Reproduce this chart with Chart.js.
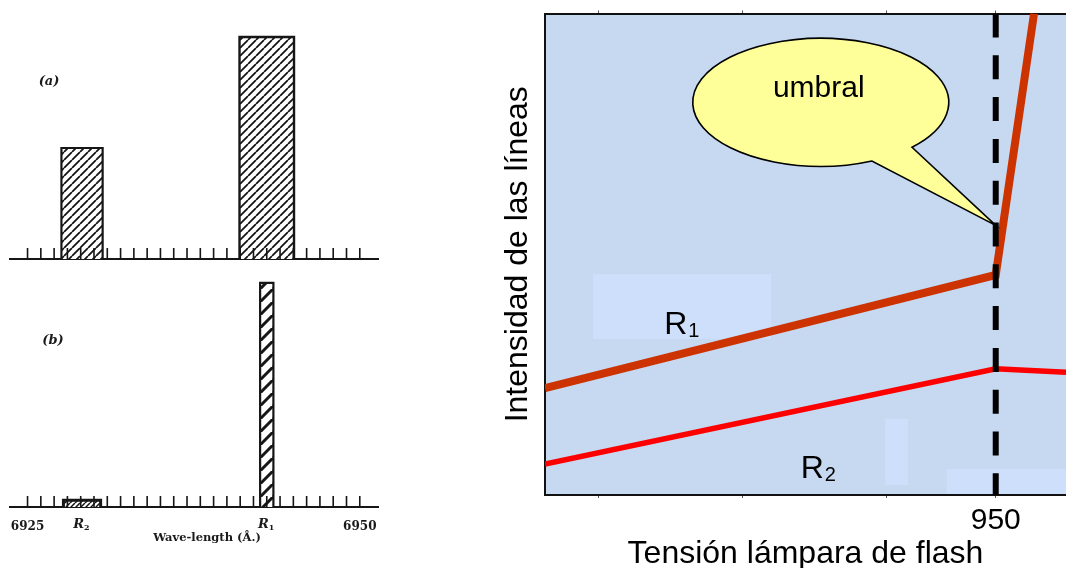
<!DOCTYPE html>
<html>
<head>
<meta charset="utf-8">
<script src="https://cdn.jsdelivr.net/npm/chart.js@4.4.0/dist/chart.umd.min.js"></script>
<style>
body { margin: 0; background: #fff; width: 1066px; height: 568px; overflow: hidden; position: relative; }
canvas { position: absolute; }
#specA { left: 0; top: 0; }
#specB { left: 0; top: 263px; }
#curve { left: 470px; top: 0; }
</style>
</head>
<body>
<canvas id="specA" width="400" height="263"></canvas>
<canvas id="specB" width="400" height="305"></canvas>
<canvas id="curve" width="596" height="576"></canvas>
<script>
// left: the two ruby lines, wavelength in Angstrom
var lineNames = ['R2', 'R1'];
var lineCentres = [6929.1, 6943.0];
var widthsA = [3.1, 4.1];      // (a) low pumping
var heightsA = [50, 100];
var widthsB = [2.8, 1.0];      // (b) above threshold
var heightsB = [3, 101];
var waveMin = 6925, waveMax = 6950;
var waveLabelValues = [6925, 6950];
var waveLabels = ['6925', '6950'];

// right: line intensity vs flash lamp voltage
var voltR1 = [793.5, 950, 963.3];
var intR1 = [22.2, 45.7, 100];
var voltR2 = [793.5, 950, 974.4];
var intR2 = [6.4, 26.2, 25.5];
var thresholdVolt = 950;
var voltTicks = [812, 862, 912, 950];
var voltLabels = ['', '', '', '950'];

var SERIF = '"DejaVu Serif", "Liberation Serif", serif';
var SANS = '"Liberation Sans", Arial, sans-serif';

function hatch(ctx, step, lw) {
  var t = document.createElement('canvas');
  t.width = step; t.height = step;
  var g = t.getContext('2d');
  g.fillStyle = '#ffffff';
  g.fillRect(0, 0, step, step);
  g.strokeStyle = '#161616';
  g.lineWidth = lw;
  g.beginPath();
  for (var k = -1; k <= 1; k++) {
    g.moveTo(k * step, step);
    g.lineTo(k * step + step, 0);
  }
  g.stroke();
  return ctx.createPattern(t, 'repeat');
}

// a spectral line drawn as a filled outline down to the axis
function barOutline(c, w, h) {
  return [{x: c - w / 2, y: 0}, {x: c - w / 2, y: h}, {x: c + w / 2, y: h}, {x: c + w / 2, y: 0}];
}

var spectrumMarks = {
  id: 'spectrumMarks',
  afterDatasetsDraw: function (chart, args, opts) {
    var c = chart.ctx, xs = chart.scales.x, a = chart.chartArea;
    c.save();
    c.strokeStyle = '#161616';
    c.lineWidth = 1.6;
    c.beginPath();
    xs.ticks.forEach(function (t) {
      if (t.value < waveMin - 1e-6 || t.value > waveMax + 1e-6) return;
      var px = xs.getPixelForValue(t.value);
      c.moveTo(px, a.bottom);
      c.lineTo(px, a.bottom - 11);
    });
    c.stroke();
    c.fillStyle = '#1a1a1a';
    c.textAlign = 'center';
    c.textBaseline = 'middle';
    c.font = 'italic bold 13px ' + SERIF;
    c.fillText(opts.letter, opts.letterX, opts.letterY);
    if (opts.names) {
      lineNames.forEach(function (n, i) {
        var px = xs.getPixelForValue(lineCentres[i]);
        c.font = 'italic bold 13px ' + SERIF;
        c.textAlign = 'right';
        c.fillText(n.charAt(0), px + 2, opts.namesY);
        c.font = 'bold 8px ' + SERIF;
        c.textAlign = 'left';
        c.fillText(n.charAt(1), px + 2, opts.namesY + 3);
      });
      c.textAlign = 'center';
      c.font = 'bold 11.5px ' + SERIF;
      c.fillText('Wave-length (\u00c5.)', opts.titleX, opts.titleY);
    }
    c.restore();
  }
};

function spectrum(id, widths, heights, hatches, borders, padTop, axisHeight, marks) {
  var ctx = document.getElementById(id).getContext('2d');
  var datasets = lineCentres.map(function (c, i) {
    return {
      data: barOutline(c, widths[i], heights[i]),
      fill: 'origin',
      backgroundColor: hatch(ctx, hatches[i][0], hatches[i][1]),
      borderColor: '#161616',
      borderWidth: borders[i],
      borderJoinStyle: 'miter',
      pointRadius: 0,
      tension: 0
    };
  });
  return new Chart(ctx, {
    type: 'line',
    data: { datasets: datasets },
    options: {
      responsive: false,
      animation: false,
      layout: { padding: { left: 10, right: 22, top: padTop, bottom: 0 } },
      plugins: { legend: { display: false }, tooltip: { enabled: false }, spectrumMarks: marks },
      scales: {
        x: {
          type: 'linear',
          min: 6923.68,
          max: 6951.37,
          afterFit: function (s) { s.height = axisHeight; },
          grid: { display: false },
          border: { display: true, color: '#161616', width: 2 },
          ticks: {
            display: !!marks.names,
            stepSize: 1,
            autoSkip: false,
            maxRotation: 0,
            padding: 5,
            color: '#1a1a1a',
            font: { family: SERIF, size: 12, weight: 'bold' },
            callback: function (v) {
              for (var k = 0; k < waveLabelValues.length; k++) {
                if (Math.abs(v - waveLabelValues[k]) < 1e-6) return waveLabels[k];
              }
              return '';
            }
          }
        },
        y: { display: false, min: 0, max: 110 }
      }
    },
    plugins: [spectrumMarks]
  });
}

spectrum('specA', widthsA, heightsA, [[8, 1.8], [8, 1.8]], [2.2, 2.4], 14.8, 4,
  { letter: '(a)', letterX: 49, letterY: 82 });
spectrum('specB', widthsB, heightsB, [[5, 1.5], [13, 3]], [3, 2.2], 0, 61,
  { letter: '(b)', letterX: 53, letterY: 78, names: true, namesY: 262, titleX: 207, titleY: 275 });

// decoration of the right panel (value coordinates)
var paleBoxes = [
  [810.2, 872.0, 45.9, 32.4],
  [911.6, 919.6, 15.8, 2.1],
  [933.0, 974.4, 5.4, 0]
];
var balloon = { volt: 950, intensity: 56, dx: -175, dy: -123, rx: 128, ry: 64, a0: 44.5, a1: 66.4 };
var curveNames = [
  { main: 'R', sub: '1', volt: 834.9, intensity: 33.4 },
  { main: 'R', sub: '2', volt: 882.3, intensity: 3.5 }
];

var curveDecor = {
  id: 'curveDecor',
  beforeDraw: function (chart) {
    var c = chart.ctx, a = chart.chartArea, xs = chart.scales.x, ys = chart.scales.y;
    c.save();
    c.fillStyle = '#c6d9f0';
    c.fillRect(a.left, a.top, a.right - a.left, a.bottom - a.top);
    c.fillStyle = '#cddffb';
    paleBoxes.forEach(function (b) {
      var x0 = xs.getPixelForValue(b[0]), x1 = xs.getPixelForValue(b[1]);
      var y0 = ys.getPixelForValue(b[2]), y1 = ys.getPixelForValue(b[3]);
      c.fillRect(x0, y0, x1 - x0, y1 - y0);
    });
    c.restore();
  },
  afterDatasetsDraw: function (chart) {
    var c = chart.ctx, xs = chart.scales.x, ys = chart.scales.y;
    var tx = xs.getPixelForValue(balloon.volt), ty = ys.getPixelForValue(balloon.intensity);
    var cx = tx + balloon.dx, cy = ty + balloon.dy;
    c.save();
    c.beginPath();
    c.ellipse(cx, cy, balloon.rx, balloon.ry, 0, balloon.a1 * Math.PI / 180, balloon.a0 * Math.PI / 180 + 2 * Math.PI);
    c.lineTo(tx, ty);
    c.closePath();
    c.fillStyle = '#ffff99';
    c.fill();
    c.lineWidth = 1.6;
    c.strokeStyle = '#000';
    c.stroke();
    c.fillStyle = '#000';
    c.textAlign = 'center';
    c.textBaseline = 'alphabetic';
    c.font = '30px ' + SANS;
    c.fillText('umbral', cx - 2, cy - 5);
    c.textAlign = 'left';
    curveNames.forEach(function (n) {
      var px = xs.getPixelForValue(n.volt), py = ys.getPixelForValue(n.intensity);
      c.font = '32px ' + SANS;
      c.fillText(n.main, px, py);
      var w = c.measureText(n.main).width;
      c.font = '20px ' + SANS;
      c.fillText(n.sub, px + w + 1, py + 3);
    });
    c.restore();
  }
};

var tickGrid = { display: true, drawOnChartArea: false, drawTicks: true, tickLength: 3, color: '#555', lineWidth: 1 };

new Chart(document.getElementById('curve').getContext('2d'), {
  type: 'line',
  data: {
    datasets: [
      {
        label: 'umbral',
        data: [{x: thresholdVolt, y: 100}, {x: thresholdVolt, y: 0}],
        borderColor: '#000',
        borderWidth: 6,
        borderDash: [24, 17.8],
        borderCapStyle: 'butt',
        pointRadius: 0,
        fill: false
      },
      {
        label: 'R1',
        data: voltR1.map(function (v, i) { return {x: v, y: intR1[i]}; }),
        borderColor: '#cc3300',
        borderWidth: 8,
        pointRadius: 0,
        tension: 0,
        fill: false
      },
      {
        label: 'R2',
        data: voltR2.map(function (v, i) { return {x: v, y: intR2[i]}; }),
        borderColor: '#ff0000',
        borderWidth: 5.5,
        pointRadius: 0,
        tension: 0,
        fill: false
      }
    ]
  },
  options: {
    responsive: false,
    animation: false,
    layout: { padding: 0 },
    plugins: { legend: { display: false }, tooltip: { enabled: false } },
    scales: {
      x: {
        type: 'linear',
        min: 793.5,
        max: 974.4,
        afterBuildTicks: function (s) { s.ticks = voltTicks.map(function (v) { return {value: v}; }); },
        afterFit: function (s) { s.height = 81; },
        grid: tickGrid,
        border: { display: true, color: '#111', width: 2 },
        ticks: {
          autoSkip: false,
          maxRotation: 0,
          padding: 5,
          color: '#000',
          font: { family: SANS, size: 30 },
          callback: function (v, i) { return voltLabels[i]; }
        },
        title: {
          display: true,
          text: 'Tensión lámpara de flash',
          color: '#000',
          font: { family: SANS, size: 32 },
          padding: { top: 0, bottom: 3 }
        }
      },
      xTop: {
        type: 'linear',
        position: 'top',
        min: 793.5,
        max: 974.4,
        afterBuildTicks: function (s) { s.ticks = voltTicks.map(function (v) { return {value: v}; }); },
        afterFit: function (s) { s.height = 13.5; },
        grid: tickGrid,
        border: { display: true, color: '#111', width: 2 },
        ticks: { display: false }
      },
      y: {
        min: 0,
        max: 100,
        afterFit: function (s) { s.width = 75; },
        grid: { display: false },
        border: { display: true, color: '#111', width: 2 },
        ticks: { display: false },
        title: {
          display: true,
          text: 'Intensidad de las líneas',
          color: '#000',
          font: { family: SANS, size: 32 },
          padding: { top: 29, bottom: 0 }
        }
      }
    }
  },
  plugins: [curveDecor]
});
</script>
</body>
</html>
